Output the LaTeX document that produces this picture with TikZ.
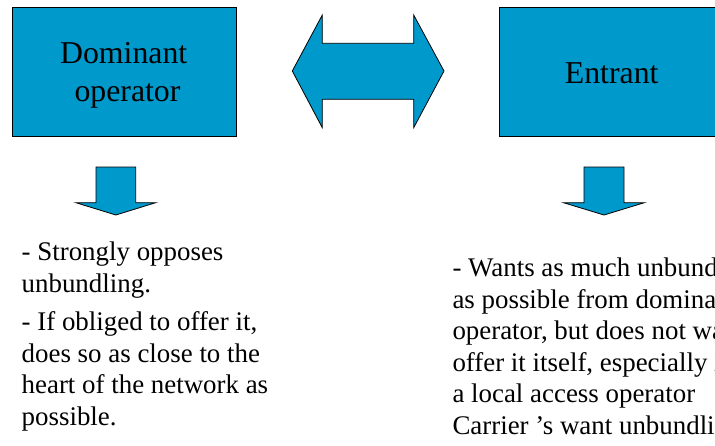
\documentclass[tikz,border=0pt]{standalone}
\usepackage{fontspec}
\setmainfont{Liberation Serif}
\definecolor{boxblue}{RGB}{0,153,204}
\begin{document}
\begin{tikzpicture}[x=1pt,y=-1pt,
  blockfill/.style={fill=boxblue,draw=black,line width=0.8pt,line join=miter},
  boxtext/.style={font=\fontsize{31.8}{38}\selectfont,inner sep=0pt,anchor=base},
  bodytext/.style={font=\fontsize{26.9}{32}\selectfont,inner sep=0pt,anchor=base west}]
\useasboundingbox (0,0) rectangle (715,445);
\clip (0,0) rectangle (715,445);
% boxes
\node[blockfill, minimum width=224pt, minimum height=128.5pt, inner sep=0pt, anchor=north west] (dom) at (12,7) {};
\node[blockfill, minimum width=224pt, minimum height=128.5pt, inner sep=0pt, anchor=north west] (ent) at (499,7) {};
\node[boxtext] (domA) at (123.7,63.7) {Dominant};
\node[boxtext] (domB) at (127.5,101) {operator};
\node[boxtext] (entA) at (611.7,83) {Entrant};
% double arrow
\draw[blockfill] (292.3,71) -- (322.3,15) -- (322.3,43.3) -- (413.7,43.3) -- (413.7,15) -- (444,71)
  -- (413.7,127.7) -- (413.7,99.3) -- (322.3,99.3) -- (322.3,127.7) -- cycle;
% down arrows
\draw[blockfill] (96,167) -- (135.7,167) -- (135.7,202.7) -- (155.7,202.7) -- (115.8,215)
  -- (76,202.7) -- (96,202.7) -- cycle;
\draw[blockfill] (584,167) -- (624,167) -- (624,202.7) -- (644.3,202.7) -- (604,215)
  -- (563.5,202.7) -- (584,202.7) -- cycle;
% left text
\node[bodytext] (l1) at (21.5,260.5) {- Strongly opposes};
\node[bodytext] (l2) at (21.5,292.5) {unbundling.};
\node[bodytext] (l3) at (21.5,330.5) {- If obliged to offer it,};
\node[bodytext] (l4) at (21.5,362) {does so as close to the};
\node[bodytext] (l5) at (21.5,393.5) {heart of the network as};
\node[bodytext] (l6) at (21.5,425) {possible.};
% right text
\node[bodytext] (r1) at (452.3,276.5) {- Wants as much unbundling};
\node[bodytext] (r2) at (452.3,308) {as possible from dominant};
\node[bodytext] (r3) at (452.3,339.5) {operator, but does not want};
\node[bodytext] (r4) at (452.3,371) {offer it itself, especially if};
\node[bodytext] (r5) at (452.3,402.5) {a local access operator};
\node[bodytext] (r6) at (452.3,434) {Carrier 's want unbundling};
\end{tikzpicture}
\end{document}
